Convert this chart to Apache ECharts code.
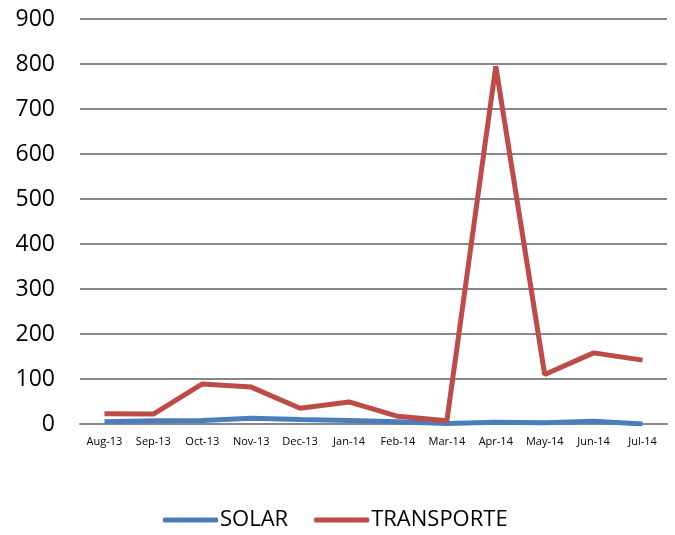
<!DOCTYPE html>
<html>
<head>
<meta charset="utf-8">
<script src="https://cdn.jsdelivr.net/npm/echarts@6/dist/echarts.min.js"></script>
<style>
  html, body { margin: 0; padding: 0; background: #fff; }
  #chart { width: 675px; height: 535px; }
</style>
</head>
<body>
<div id="chart"></div>
<script>
// datos
var months = ["Aug-13", "Sep-13", "Oct-13", "Nov-13", "Dec-13", "Jan-14",
  "Feb-14", "Mar-14", "Apr-14", "May-14", "Jun-14", "Jul-14"];
var solar = [5, 7, 8, 13, 10, 8, 5, 1, 4, 3, 6, 0];
var transporte = [23, 22, 89, 82, 35, 49, 17, 7, 795, 110, 158, 142];

var myChart = echarts.init(document.getElementById("chart"));
myChart.setOption({
  animation: false,
  textStyle: { fontFamily: "Open Sans" },
  grid: { left: 80, right: 8, top: 19, bottom: 111 },
  legend: {
    data: ["SOLAR", "TRANSPORTE"],
    bottom: -1,
    left: 158,
    itemWidth: 55,
    itemHeight: 5,
    itemGap: 26,
    icon: "roundRect",
    textStyle: { fontSize: 22, color: "#000", padding: [0, 0, 0, -3] },
  },
  xAxis: {
    type: "category",
    data: months,
    boundaryGap: true,
    axisLine: { lineStyle: { color: "#888", width: 2 } },
    axisTick: { show: false },
    axisLabel: { fontSize: 11, color: "#000", interval: 0, margin: 12 },
  },
  yAxis: {
    type: "value",
    min: 0,
    max: 900,
    interval: 100,
    axisLine: { show: false },
    axisTick: { show: false },
    splitLine: { lineStyle: { color: "#888", width: 2 } },
    axisLabel: { fontSize: 23, color: "#000", margin: 25 },
  },
  series: [
    {
      name: "SOLAR",
      type: "line",
      data: solar,
      symbol: "none",
      itemStyle: { color: "#4a7ebb" },
      lineStyle: { width: 5, color: "#4a7ebb" },
    },
    {
      name: "TRANSPORTE",
      type: "line",
      data: transporte,
      symbol: "none",
      itemStyle: { color: "#be4b48" },
      lineStyle: { width: 5, color: "#be4b48" },
    },
  ],
});
</script>
</body>
</html>
